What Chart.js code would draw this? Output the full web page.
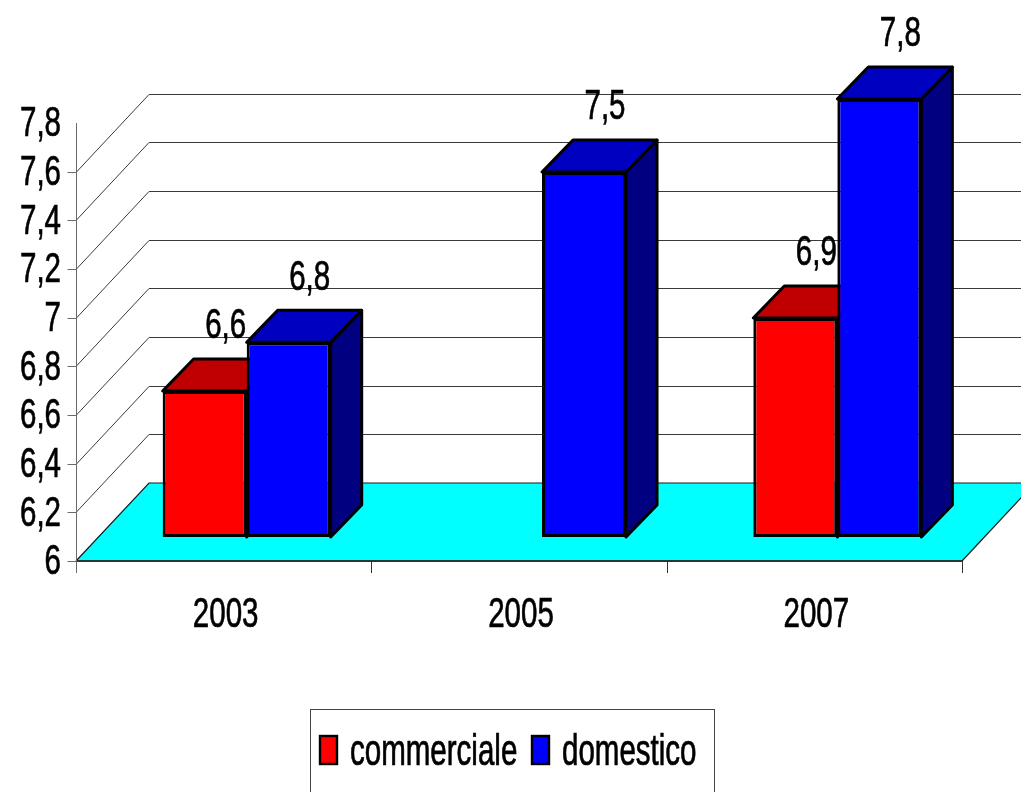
<!DOCTYPE html>
<html>
<head>
<meta charset="utf-8">
<script src="https://cdn.jsdelivr.net/npm/chart.js@4/dist/chart.umd.min.js"></script>
<style>
  html, body { margin: 0; padding: 0; background: #ffffff; }
  #wrap { width: 1021px; height: 792px; position: relative; }
</style>
</head>
<body>
<div id="wrap"><canvas id="c" width="1021" height="792"></canvas></div>
<script>
// ---- data ----
const categories = ['2003', '2005', '2007'];
const seriesNames = ['commerciale', 'domestico'];
const commerciale = [6.6, null, 6.9];
const domestico = [6.8, 7.5, 7.8];
const yTicks = [6, 6.2, 6.4, 6.6, 6.8, 7, 7.2, 7.4, 7.6, 7.8];
const yTickLabels = ['6', '6,2', '6,4', '6,6', '6,8', '7', '7,2', '7,4', '7,6', '7,8'];

// ---- styles ----
const frontColors = ['#FF0000', '#0000FF'];
const topColors = ['#C00000', '#0000C0'];
const sideColors = ['#800000', '#000080'];
const DEPTH = { dx: 31, dy: -32 };   // bar depth
const FRONT = { dx: -23, dy: 24 };   // bar plane -> front axis plane
const WALL = { dx: 73, dy: -78 };    // front plane -> back wall
const HS = 0.82, VS = 1.18, FS = 36;
const FONT = '"Liberation Sans", Arial, sans-serif';

function txt(ctx, s, x, cy, align, size, vs) {
  size = size || FS; vs = vs || VS;
  ctx.save();
  ctx.font = size + 'px ' + FONT;
  ctx.fillStyle = '#000';
  ctx.strokeStyle = '#000';
  ctx.lineWidth = 0.6;
  ctx.textAlign = align;
  ctx.textBaseline = 'alphabetic';
  ctx.translate(x, cy + 0.358 * size * vs);
  ctx.scale(HS, vs);
  ctx.fillText(s, 0, 0);
  ctx.strokeText(s, 0, 0);
  ctx.restore();
}
function poly(ctx, pts, fill, stroke, lw) {
  ctx.beginPath();
  ctx.moveTo(pts[0][0], pts[0][1]);
  for (let i = 1; i < pts.length; i++) ctx.lineTo(pts[i][0], pts[i][1]);
  ctx.closePath();
  if (fill) { ctx.fillStyle = fill; ctx.fill(); }
  if (stroke) { ctx.strokeStyle = stroke; ctx.lineWidth = lw; ctx.lineJoin = 'round'; ctx.stroke(); }
}
function fmt(v) { return String(v).replace('.', ','); }

const scene3d = {
  id: 'scene3d',
  beforeDatasetsDraw(chart) {
    const ctx = chart.ctx, a = chart.chartArea, ys = chart.scales.y;
    const fy = v => ys.getPixelForValue(v) + FRONT.dy;
    const fx0 = a.left + FRONT.dx, fx1 = a.right + FRONT.dx;
    const y0 = fy(yTicks[0]);
    ctx.save();
    // floor
    poly(ctx, [[fx0, y0], [fx1, y0], [fx1 + WALL.dx, y0 + WALL.dy], [fx0 + WALL.dx, y0 + WALL.dy]], '#00FFFF', null);
    ctx.strokeStyle = '#1a1a1a'; ctx.lineWidth = 1.2;
    ctx.beginPath();
    ctx.moveTo(fx0, y0); ctx.lineTo(fx0 + WALL.dx, y0 + WALL.dy); ctx.lineTo(chart.width, y0 + WALL.dy);
    ctx.moveTo(fx1, y0); ctx.lineTo(fx1 + WALL.dx, y0 + WALL.dy);
    ctx.stroke();
    ctx.strokeStyle = '#203838'; ctx.lineWidth = 2;
    ctx.beginPath(); ctx.moveTo(fx0, y0); ctx.lineTo(fx1, y0); ctx.stroke();
    // wall gridlines
    ctx.strokeStyle = '#3a3a3a'; ctx.lineWidth = 1;
    yTicks.forEach((v, i) => {
      if (i === 0 || i === yTicks.length - 1) return;
      const yy = Math.round(fy(v)) + 0.5;
      ctx.beginPath();
      ctx.moveTo(fx0, yy); ctx.lineTo(fx0 + WALL.dx, yy + WALL.dy); ctx.lineTo(chart.width, yy + WALL.dy);
      ctx.stroke();
    });
    // y axis line + ticks
    ctx.strokeStyle = '#6a6a6a'; ctx.lineWidth = 1;
    const ax = Math.round(fx0) + 0.5;
    ctx.beginPath(); ctx.moveTo(ax, fy(yTicks[yTicks.length - 1])); ctx.lineTo(ax, y0 + 12); ctx.stroke();
    yTicks.forEach((v, i) => {
      if (i === yTicks.length - 1) return;
      const yy = Math.round(fy(v)) + 0.5;
      ctx.beginPath(); ctx.moveTo(ax - 9, yy); ctx.lineTo(ax, yy); ctx.stroke();
    });
    // x ticks at category boundaries
    ctx.strokeStyle = '#333';
    const cw = a.width / categories.length;
    for (let i = 1; i <= categories.length; i++) {
      const bx = Math.round(a.left + i * cw + FRONT.dx) + 0.5;
      ctx.beginPath(); ctx.moveTo(bx, y0); ctx.lineTo(bx, y0 + 12); ctx.stroke();
    }
    // 3D bar top and side faces
    categories.forEach((c, ci) => {
      chart.data.datasets.forEach((ds, di) => {
        const meta = chart.getDatasetMeta(di);
        const el = meta.data[ci];
        if (!el || ds.data[ci] === null || ds.data[ci] === undefined) return;
        const p = el.getProps(['x', 'y', 'base', 'width'], true);
        const l = p.x - p.width / 2, r = p.x + p.width / 2;
        poly(ctx, [[r, p.y], [r + DEPTH.dx, p.y + DEPTH.dy], [r + DEPTH.dx, p.base + DEPTH.dy], [r, p.base]], sideColors[di], '#000', 3);
        poly(ctx, [[l, p.y], [r, p.y], [r + DEPTH.dx, p.y + DEPTH.dy], [l + DEPTH.dx, p.y + DEPTH.dy]], topColors[di], '#000', 3);
      });
    });
    ctx.restore();
  },
  afterDraw(chart) {
    const ctx = chart.ctx, a = chart.chartArea, ys = chart.scales.y, xs = chart.scales.x;
    const fy = v => ys.getPixelForValue(v) + FRONT.dy;
    const fx0 = a.left + FRONT.dx;
    // y tick labels
    yTicks.forEach((v, i) => txt(ctx, yTickLabels[i], fx0 - 15, fy(v) - 2, 'right'));
    // x labels
    categories.forEach((c, i) => txt(ctx, c, xs.getPixelForValue(i) + FRONT.dx + 2, fy(yTicks[0]) + 51, 'center'));
    // data labels
    chart.data.datasets.forEach((ds, di) => {
      const meta = chart.getDatasetMeta(di);
      meta.data.forEach((el, i) => {
        const v = ds.data[i];
        if (v === null || v === undefined) return;
        const p = el.getProps(['x', 'y'], true);
        txt(ctx, fmt(v), p.x + 21, p.y - 68, 'center');
      });
    });
    // legend
    ctx.save();
    ctx.strokeStyle = '#444'; ctx.lineWidth = 1;
    ctx.strokeRect(310.5, 709.5, 404, 120);
    const items = [{ x: 320, tx: 350 }, { x: 532, tx: 562 }];
    items.forEach((it, i) => {
      ctx.fillStyle = frontColors[i];
      ctx.fillRect(it.x, 736, 17, 28);
      ctx.strokeStyle = '#000'; ctx.lineWidth = 2.4;
      ctx.strokeRect(it.x, 736, 17, 28);
      txt(ctx, seriesNames[i], it.tx, 749, 'left', 36, 1.24);
    });
    ctx.restore();
  }
};

new Chart(document.getElementById('c'), {
  type: 'bar',
  data: {
    labels: categories,
    datasets: [
      { label: seriesNames[0], data: commerciale, base: yTicks[0], backgroundColor: frontColors[0], borderColor: '#000', borderWidth: 3, borderSkipped: false, clip: false },
      { label: seriesNames[1], data: domestico, base: yTicks[0], backgroundColor: frontColors[1], borderColor: '#000', borderWidth: 3, borderSkipped: false, clip: false }
    ]
  },
  options: {
    responsive: false,
    animation: false,
    events: [],
    layout: { padding: { left: 99, right: 36, top: 99, bottom: 255 } },
    datasets: { bar: { categoryPercentage: 0.569, barPercentage: 1.0 } },
    scales: {
      x: { display: false, offset: true, grid: { display: false } },
      y: { display: false, min: yTicks[0], max: yTicks[yTicks.length - 1], ticks: { stepSize: 0.2 } }
    },
    plugins: { legend: { display: false }, tooltip: { enabled: false }, title: { display: false } }
  },
  plugins: [scene3d]
});
</script>
</body>
</html>
